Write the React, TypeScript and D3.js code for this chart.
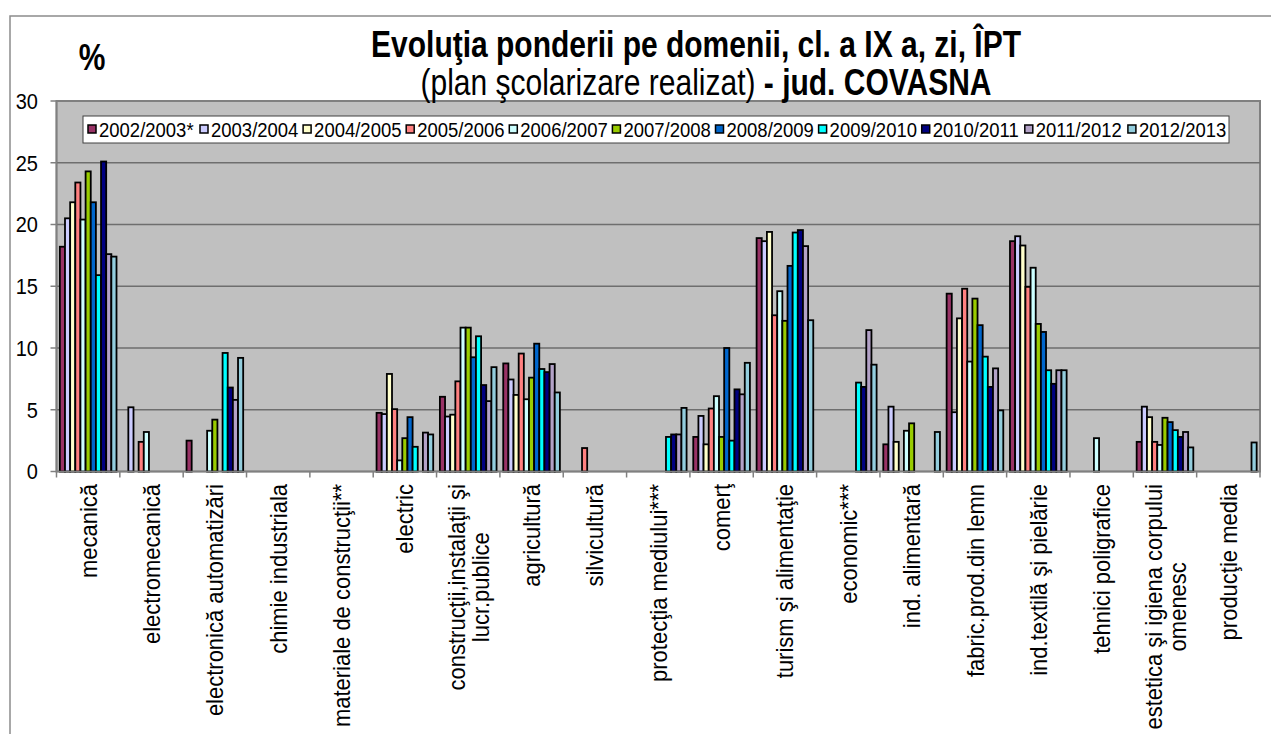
import React, { useEffect, useRef } from "react";
import * as d3 from "d3";

const categories: string[][] = [
  ["mecanică"],
  ["electromecanică"],
  ["electronică automatizări"],
  ["chimie industriala"],
  ["materiale de construcţii**"],
  ["electric"],
  ["construcţii,instalaţii şi", "lucr.publice"],
  ["agricultură"],
  ["silvicultură"],
  ["protecţia mediului***"],
  ["comerţ"],
  ["turism şi alimentaţie"],
  ["economic***"],
  ["ind. alimentară"],
  ["fabric.prod.din lemn"],
  ["ind.textilă şi pielărie"],
  ["tehnici poligrafice"],
  ["estetica şi igiena corpului", "omenesc"],
  ["producţie media"],
];

const seriesNames = [
  "2002/2003*", "2003/2004", "2004/2005", "2005/2006", "2006/2007", "2007/2008",
  "2008/2009", "2009/2010", "2010/2011", "2011/2012", "2012/2013",
];

const seriesColors = [
  "#993366", "#CCCCFF", "#FFFFCC", "#FF8080", "#CCFFFF", "#99CC00",
  "#0066CC", "#00FFFF", "#000080", "#B3A2C7", "#93CDDD",
];

const s2002 = [18.2, 0, 2.5, 0, 0, 4.75, 6.05, 8.75, 0, 0, 2.8, 18.9, 0, 2.2, 14.4, 18.65, 0, 2.4, 0];
const s2003 = [20.5, 5.2, 0, 0, 0, 4.65, 4.45, 7.45, 0, 0, 4.5, 18.65, 0, 5.25, 4.8, 19.05, 0, 5.25, 0];
const s2004 = [21.8, 0, 0, 0, 0, 7.9, 4.6, 6.2, 0, 0, 2.2, 19.4, 0, 2.4, 12.4, 18.3, 0, 4.4, 0];
const s2005 = [23.4, 2.4, 0, 0, 0, 5.05, 7.3, 9.55, 1.9, 0, 5.1, 12.65, 0, 0, 14.8, 14.95, 0, 2.4, 0];
const s2006 = [20.4, 3.2, 3.3, 0, 0, 0.9, 11.65, 5.85, 0, 0, 6.1, 14.6, 0, 3.3, 8.9, 16.5, 2.7, 2.15, 0];
const s2007 = [24.3, 0, 4.2, 0, 0, 2.7, 11.65, 7.6, 0, 0, 2.8, 12.2, 0, 3.9, 14.0, 11.95, 0, 4.35, 0];
const s2008 = [21.8, 0, 0, 0, 0, 4.4, 9.25, 10.35, 0, 0, 10.0, 16.65, 0, 0, 11.85, 11.3, 0, 4.0, 0];
const s2009 = [15.9, 0, 9.6, 0, 0, 2.0, 10.95, 8.3, 0, 2.8, 2.5, 19.35, 7.2, 0, 9.3, 8.2, 0, 3.35, 0];
const s2010 = [25.1, 0, 6.8, 0, 0, 0, 7.0, 8.05, 0, 3.0, 6.65, 19.55, 6.85, 0, 6.85, 7.1, 0, 2.8, 0];
const s2011 = [17.6, 0, 5.8, 0, 0, 3.15, 5.7, 8.7, 0, 3.0, 6.25, 18.25, 11.45, 0, 8.35, 8.2, 0, 3.2, 0];
const s2012 = [17.4, 0, 9.2, 0, 0, 3.0, 8.45, 6.4, 0, 5.15, 8.8, 12.25, 8.65, 3.2, 4.95, 8.2, 0, 1.95, 2.35];

const seriesValues = [s2002, s2003, s2004, s2005, s2006, s2007, s2008, s2009, s2010, s2011, s2012];

const yTicks = [0, 5, 10, 15, 20, 25, 30];

const W = 1271;
const H = 734;
const FONT = "Arial, 'Liberation Sans', sans-serif";

export default function App() {
  const ref = useRef<SVGSVGElement | null>(null);

  useEffect(() => {
    const svg = d3.select(ref.current);
    svg.selectAll("*").remove();

    const left = 56.5, right = 1260, top = 101, bottom = 471.5;

    const x = d3.scaleBand<number>().domain(d3.range(categories.length)).range([left, right]).padding(0);
    const xs = d3.scaleBand<number>().domain(d3.range(seriesNames.length)).range([0, x.bandwidth()])
      .paddingInner(0).paddingOuter(0.65);
    const y = d3.scaleLinear().domain([0, 30]).range([bottom, top]);

    // outer chart border
    svg.append("rect").attr("x", 10).attr("y", 16).attr("width", W + 20).attr("height", H + 20)
      .attr("fill", "#fff").attr("stroke", "#8c8c8c").attr("stroke-width", 1.5);

    // plot area
    svg.append("rect").attr("x", left).attr("y", top).attr("width", right - left).attr("height", bottom - top)
      .attr("fill", "#C0C0C0").attr("stroke", "#808080").attr("stroke-width", 2);

    // gridlines
    svg.append("g").selectAll("line").data(yTicks.filter((t) => t > 0 && t < 30)).join("line")
      .attr("x1", left).attr("x2", right).attr("y1", (d) => y(d)).attr("y2", (d) => y(d))
      .attr("stroke", "#6e6e6e").attr("stroke-width", 1.5);

    // bars
    const gBars = svg.append("g");
    seriesValues.forEach((vals, si) => {
      gBars.append("g").selectAll("rect")
        .data(vals.map((v, ci) => ({ v, ci })).filter((d) => d.v > 0))
        .join("rect")
        .attr("x", (d) => (x(d.ci) as number) + (xs(si) as number))
        .attr("width", xs.bandwidth())
        .attr("y", (d) => y(d.v))
        .attr("height", (d) => y(0) - y(d.v))
        .attr("fill", seriesColors[si])
        .attr("stroke", "#000").attr("stroke-width", 1.8);
    });

    // y axis
    svg.append("line").attr("x1", left).attr("x2", left).attr("y1", top).attr("y2", bottom)
      .attr("stroke", "#808080").attr("stroke-width", 1.5);
    const gy = svg.append("g");
    gy.selectAll("line").data(yTicks).join("line")
      .attr("x1", left - 6).attr("x2", left).attr("y1", (d) => y(d)).attr("y2", (d) => y(d))
      .attr("stroke", "#808080").attr("stroke-width", 1.5);
    gy.selectAll("text").data(yTicks).join("text")
      .attr("transform", (d) => `translate(38,${y(d)}) scale(1,1.1)`).attr("dy", "0.36em")
      .attr("text-anchor", "end").attr("font-family", FONT).attr("font-size", 20)
      .attr("fill", "#000").text((d) => d);

    // x axis
    svg.append("line").attr("x1", left).attr("x2", right).attr("y1", bottom).attr("y2", bottom)
      .attr("stroke", "#808080").attr("stroke-width", 1.5);
    const bounds = d3.range(categories.length + 1).map((i) => left + i * x.step());
    svg.append("g").selectAll("line").data(bounds).join("line")
      .attr("x1", (d) => d).attr("x2", (d) => d).attr("y1", bottom).attr("y2", bottom + 6)
      .attr("stroke", "#808080").attr("stroke-width", 1.5);

    // category labels
    const labTop = 484;
    const gl = svg.append("g").attr("font-family", FONT).attr("font-size", 22).attr("fill", "#000");
    categories.forEach((lines, ci) => {
      const cx = (x(ci) as number) + x.bandwidth() / 2;
      if (lines.length === 1) {
        gl.append("text").attr("transform", `translate(${cx},${labTop}) rotate(-90) scale(1,1.08)`)
          .attr("text-anchor", "end").attr("dy", "0.36em").text(lines[0]);
      } else {
        const t1 = gl.append("text").attr("transform", `translate(${cx - 12},${labTop}) rotate(-90) scale(1,1.08)`)
          .attr("text-anchor", "end").attr("dy", "0.36em").text(lines[0]);
        const len = (t1.node() as SVGTextElement).getComputedTextLength();
        gl.append("text").attr("transform", `translate(${cx + 12},${labTop + len / 2}) rotate(-90) scale(1,1.08)`)
          .attr("text-anchor", "middle").attr("dy", "0.36em").text(lines[1]);
      }
    });

    // legend
    const legX0 = 83, legX1 = 1229, legY0 = 116, legY1 = 143;
    svg.append("rect").attr("x", legX0).attr("y", legY0).attr("width", legX1 - legX0).attr("height", legY1 - legY0)
      .attr("fill", "#fff").attr("stroke", "#404040").attr("stroke-width", 1);
    const legPos = seriesNames.map((_, i) => (i === 0 ? 88 : 200 + (i - 1) * 103.1));
    const gLeg = svg.append("g").attr("font-family", FONT).attr("font-size", 18.5);
    seriesNames.forEach((name, i) => {
      gLeg.append("rect").attr("x", legPos[i]).attr("y", 125).attr("width", 8).attr("height", 8)
        .attr("fill", seriesColors[i]).attr("stroke", "#000").attr("stroke-width", 1.5);
      gLeg.append("text").attr("transform", `translate(${legPos[i] + 11},129.5) scale(1,1.1)`)
        .attr("dy", "0.36em").text(name);
    });

    // titles
    const gt = svg.append("g").attr("font-family", FONT).attr("font-size", 30).attr("fill", "#000");
    gt.append("text").attr("transform", "translate(92,70) scale(1,1.2)").attr("text-anchor", "middle")
      .attr("font-weight", "bold").text("%");
    gt.append("text").attr("transform", "translate(696,57) scale(1,1.2)").attr("text-anchor", "middle")
      .attr("font-weight", "bold").text("Evoluţia ponderii pe domenii, cl. a IX a, zi, ÎPT");
    const t2 = gt.append("text").attr("transform", "translate(706,95) scale(1,1.2)").attr("text-anchor", "middle");
    t2.append("tspan").text("(plan şcolarizare realizat)");
    t2.append("tspan").attr("font-weight", "bold").text(" - jud. COVASNA");
  }, []);

  return (
    <svg
      ref={ref}
      width={W}
      height={H}
      style={{ position: "fixed", left: 0, top: 0, background: "#fff" }}
    />
  );
}
